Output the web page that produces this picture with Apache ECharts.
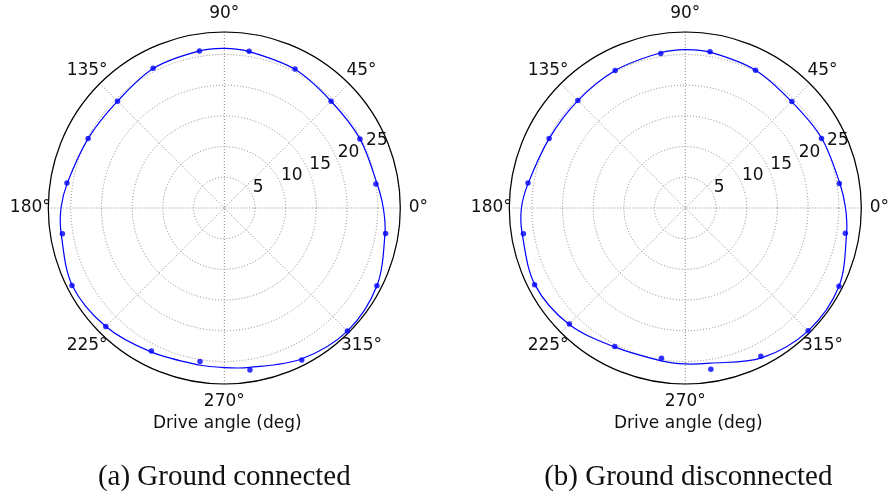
<!DOCTYPE html>
<html>
<head>
<meta charset="utf-8">
<script src="https://cdn.jsdelivr.net/npm/echarts@6/dist/echarts.min.js"></script>
<style>
  html, body { margin: 0; padding: 0; background: #fff; }
  #chart { width: 889px; height: 498px; }
</style>
</head>
<body>
<div id="chart"></div>
<script>
// Radial scale (same for both panels)
const radialMax = 28.67;
const radialStep = 5;
const angleTicks = [0, 45, 90, 135, 180, 225, 270, 315];

// Measured drive angles (deg) and responses
const sampleAngles = [9, 27, 45, 63, 81, 99, 117, 135, 153, 171, 189, 207, 225, 243, 261, 279, 297, 315, 333, 351];
const connectedPts = [25.0, 24.8, 24.6, 25.4, 25.85, 25.9, 25.55, 24.6, 24.9, 25.95, 26.7, 27.85, 27.3, 26.15, 25.3, 26.7, 27.8, 28.35, 27.9, 26.6];
const disconnectedPts = [25.4, 24.9, 24.55, 25.2, 25.75, 25.5, 25.15, 24.75, 24.9, 25.95, 26.7, 27.55, 26.7, 25.3, 24.8, 26.6, 27.1, 28.3, 28.1, 26.4];

// Fitted response curves
const fitAngles = [0, 9, 27, 45, 63, 81, 90, 99, 117, 135, 153, 171, 180, 189, 207, 225, 243, 261, 270, 279, 297, 315, 333, 351];
const connectedFit = [25.9, 25.2, 24.8, 24.6, 25.35, 25.8, 26.0, 25.9, 25.5, 24.6, 24.9, 25.9, 26.6, 26.9, 27.8, 27.3, 26.3, 25.9, 26.0, 26.3, 27.6, 28.35, 27.9, 26.5];
const disconnectedFit = [26.1, 25.5, 24.95, 24.5, 25.2, 25.7, 25.8, 25.6, 25.15, 24.75, 24.9, 25.9, 26.7, 26.9, 27.5, 26.8, 25.4, 25.2, 25.4, 25.6, 27.4, 28.3, 28.1, 26.6];

const panelTitles = ['(a) Ground connected', '(b) Ground disconnected'];
const axisName = 'Drive angle (deg)';

const centers = [[224.3, 208], [685.3, 208]];
const outerRadius = 176;
// angular tick labels are centred this far outside the rim (as a fraction of the radius)
const angleLabelScale = 194 / 176;
const blue = '#0000ff';
const gridColor = '#888';
const tickFont = { fontFamily: 'DejaVu Sans', fontSize: 17, color: '#111' };

const polar = [], angleAxis = [], radiusAxis = [], series = [], title = [];

function pairs(radii, angles) {
  return radii.map((r, i) => [r, angles[i]]);
}

// Closed smooth curve through the projected points (chord-length weighted tangents)
function closedSplinePath(pts) {
  const n = pts.length;
  const P = i => pts[(i + n) % n];
  const dist = (a, b) => Math.hypot(b[0] - a[0], b[1] - a[1]);
  let d = 'M' + pts[0][0] + ',' + pts[0][1];
  for (let i = 0; i < n; i++) {
    const p0 = P(i - 1), p1 = P(i), p2 = P(i + 1), p3 = P(i + 2);
    const d01 = dist(p0, p1), d12 = dist(p1, p2), d23 = dist(p2, p3);
    const k1 = d12 / (3 * (d01 + d12)), k2 = d12 / (3 * (d12 + d23));
    const c1 = [p1[0] + (p2[0] - p0[0]) * k1, p1[1] + (p2[1] - p0[1]) * k1];
    const c2 = [p2[0] - (p3[0] - p1[0]) * k2, p2[1] - (p3[1] - p1[1]) * k2];
    d += 'C' + c1[0] + ',' + c1[1] + ' ' + c2[0] + ',' + c2[1] + ' ' + p2[0] + ',' + p2[1];
  }
  return d + 'Z';
}

[[connectedPts, connectedFit], [disconnectedPts, disconnectedFit]].forEach(([pts, fit], k) => {
  const gridIdx = 2 * k, labelIdx = 2 * k + 1;
  polar.push({ center: centers[k], radius: outerRadius });
  polar.push({ center: centers[k], radius: outerRadius });

  // grid polar: spokes, rings, outer circle
  angleAxis.push({
    polarIndex: gridIdx, type: 'value', min: 0, max: 360, interval: 45,
    startAngle: 0, clockwise: false,
    axisLine: { lineStyle: { color: '#000', width: 1.2 } },
    axisTick: { show: false },
    axisLabel: { show: false },
    splitLine: { lineStyle: { color: gridColor, width: 1, type: [1, 2] } }
  });
  radiusAxis.push({
    polarIndex: gridIdx, type: 'value', min: 0, max: radialMax, interval: radialStep,
    axisLine: { show: false }, axisTick: { show: false }, axisLabel: { show: false },
    splitLine: { lineStyle: { color: gridColor, width: 1, type: [1, 2] } }
  });

  // label polar: radial tick labels along 22.5°
  angleAxis.push({
    polarIndex: labelIdx, type: 'value', min: 0, max: 360, startAngle: 22.5, clockwise: false,
    show: false
  });
  radiusAxis.push({
    polarIndex: labelIdx, type: 'value', min: 0, max: radialMax, interval: radialStep,
    axisLine: { show: false }, axisTick: { show: false }, splitLine: { show: false },
    axisLabel: Object.assign({
      margin: 0, align: 'left', verticalAlign: 'bottom',
      formatter: v => (v > 0 && v % radialStep === 0 ? String(v) : '')
    }, tickFont)
  });

  // angular tick labels, centred on their direction just outside the rim
  series.push({
    type: 'custom', coordinateSystem: 'polar', polarIndex: gridIdx, clip: false,
    data: angleTicks.map(a => [radialMax * angleLabelScale, a]), silent: true, z: 5,
    renderItem: (params, api) => {
      const p = api.coord([api.value(0), api.value(1)]);
      return {
        type: 'text', x: p[0], y: p[1],
        style: {
          text: api.value(1) + '°', fill: tickFont.color,
          font: tickFont.fontSize + 'px "' + tickFont.fontFamily + '"',
          align: 'center', verticalAlign: 'middle'
        }
      };
    }
  });

  // fitted curve: one closed path through the fit readings, projected by the polar axes
  const fitData = pairs(fit, fitAngles);
  series.push({
    type: 'custom', coordinateSystem: 'polar', polarIndex: gridIdx, clip: false,
    data: fitData, silent: true, z: 3,
    renderItem: (params, api) => {
      if (params.dataIndex !== 0) return null;
      const projected = fitData.map(p => api.coord(p));
      return {
        type: 'path',
        shape: { pathData: closedSplinePath(projected) },
        style: { fill: 'none', stroke: blue, lineWidth: 1.2 }
      };
    }
  });
  series.push({
    type: 'scatter', coordinateSystem: 'polar', polarIndex: gridIdx,
    data: pairs(pts, sampleAngles), symbolSize: 5.5,
    itemStyle: { color: blue }, z: 4, silent: true
  });

  title.push({
    text: axisName, left: centers[k][0] + 3, top: 415, textAlign: 'center', padding: 0,
    textStyle: { fontFamily: 'DejaVu Sans', fontSize: 17, fontWeight: 'normal', color: '#111' }
  });
  title.push({
    text: panelTitles[k], left: centers[k][0] + (k ? 3 : 0), top: 463, textAlign: 'center', padding: 0,
    textStyle: { fontFamily: 'Liberation Serif', fontSize: 29, fontWeight: 'normal', color: '#111' }
  });
});

const chart = echarts.init(document.getElementById('chart'), null, { renderer: 'canvas' });
chart.setOption({
  animation: false,
  backgroundColor: '#fff',
  title, polar, angleAxis, radiusAxis, series
});
</script>
</body>
</html>
